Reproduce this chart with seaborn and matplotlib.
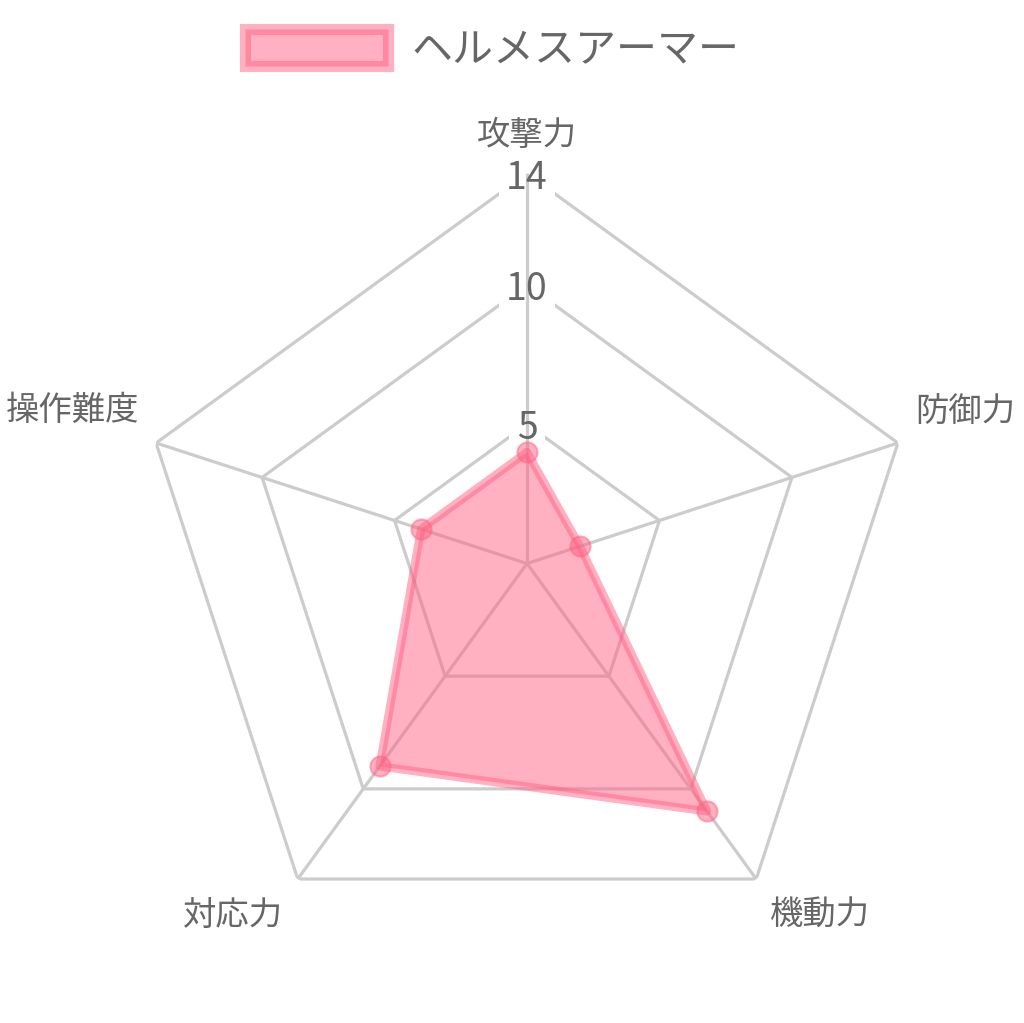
import numpy as np
import pandas as pd
import seaborn as sns
import matplotlib.pyplot as plt
from matplotlib.patches import Patch

# data
categories = ["攻撃力", "防御力", "機動力", "対応力", "操作難度"]
values = [4, 2, 11, 9, 4]
series_name = "ヘルメスアーマー"
ring_ticks = [5, 10, 14]
r_max = 14

sns.set_theme(style="white")
plt.rcParams['font.family'] = ['Noto Sans CJK JP', 'DejaVu Sans']

pink = (1.0, 99 / 255, 132 / 255)
pink_a = (1.0, 99 / 255, 132 / 255, 0.5)
txt = "#666666"
grid_c = "#cccccc"

angles = np.linspace(0, 2 * np.pi, len(categories), endpoint=False)
ang_closed = np.append(angles, angles[0])
df = pd.DataFrame({"angle": ang_closed, "value": values + values[:1]})

fig = plt.figure(figsize=(10.24, 10.23), dpi=100)
fig.patch.set_facecolor("white")
ax = fig.add_axes([137 / 1024, 69.5 / 1023, 780 / 1024, 780 / 1023], projection="polar")
ax.set_theta_offset(np.pi / 2)
ax.set_theta_direction(-1)
ax.set_ylim(0, r_max)
ax.set_xticks([])
ax.set_yticks([])
ax.grid(False)
ax.spines['polar'].set_visible(False)
ax.patch.set_alpha(0)

# pentagon rings
for r in ring_ticks:
    ax.plot(ang_closed, [r] * len(ang_closed), color=grid_c, lw=2.3, zorder=1)

# white backdrop behind tick labels (hides the rings only)
for r in ring_ticks:
    ax.text(0, r, str(r), ha="center", va="center_baseline", fontsize=27, color="none",
            bbox=dict(boxstyle="square,pad=0.2", fc="white", ec="none"), zorder=1.5)

# spokes
for a in angles:
    ax.plot([a, a], [0, r_max], color=grid_c, lw=2.3, zorder=1.6)

# tick labels
for r in ring_ticks:
    ax.text(0, r, str(r), ha="center", va="center_baseline", fontsize=27, color=txt,
            zorder=1.7)

# category labels
label_pos = [((0, 38), "center"), ((17, 32), "left"), ((14, -36), "left"),
             ((-15, -36), "right"), ((-17, 33), "right")]
for a, lab, (off, ha) in zip(angles, categories, label_pos):
    ax.annotate(lab, xy=(a, r_max), xytext=off, textcoords="offset pixels",
                ha=ha, va="center", fontsize=24, color=txt, annotation_clip=False)

# data
ax.fill(df["angle"], df["value"], color=pink_a, lw=0, zorder=2)
sns.lineplot(data=df, x="angle", y="value", sort=False, ax=ax, color=pink,
             alpha=0.5, lw=6, zorder=3, estimator=None)
sns.scatterplot(x=angles, y=values, ax=ax, s=210, color=pink_a,
                edgecolor=pink_a, linewidth=1.5, zorder=4)
ax.set_xlabel("")
ax.set_ylabel("")

fig.legend(handles=[Patch(facecolor=pink_a, edgecolor=pink_a, lw=8)], labels=[series_name],
           loc="center", bbox_to_anchor=(492 / 1024, 1 - 50 / 1023), frameon=False,
           fontsize=29.5, handlelength=3.5, handleheight=1.0, handletextpad=0.55,
           labelcolor=txt)

fig.savefig("out.png", dpi=100, facecolor="white")
